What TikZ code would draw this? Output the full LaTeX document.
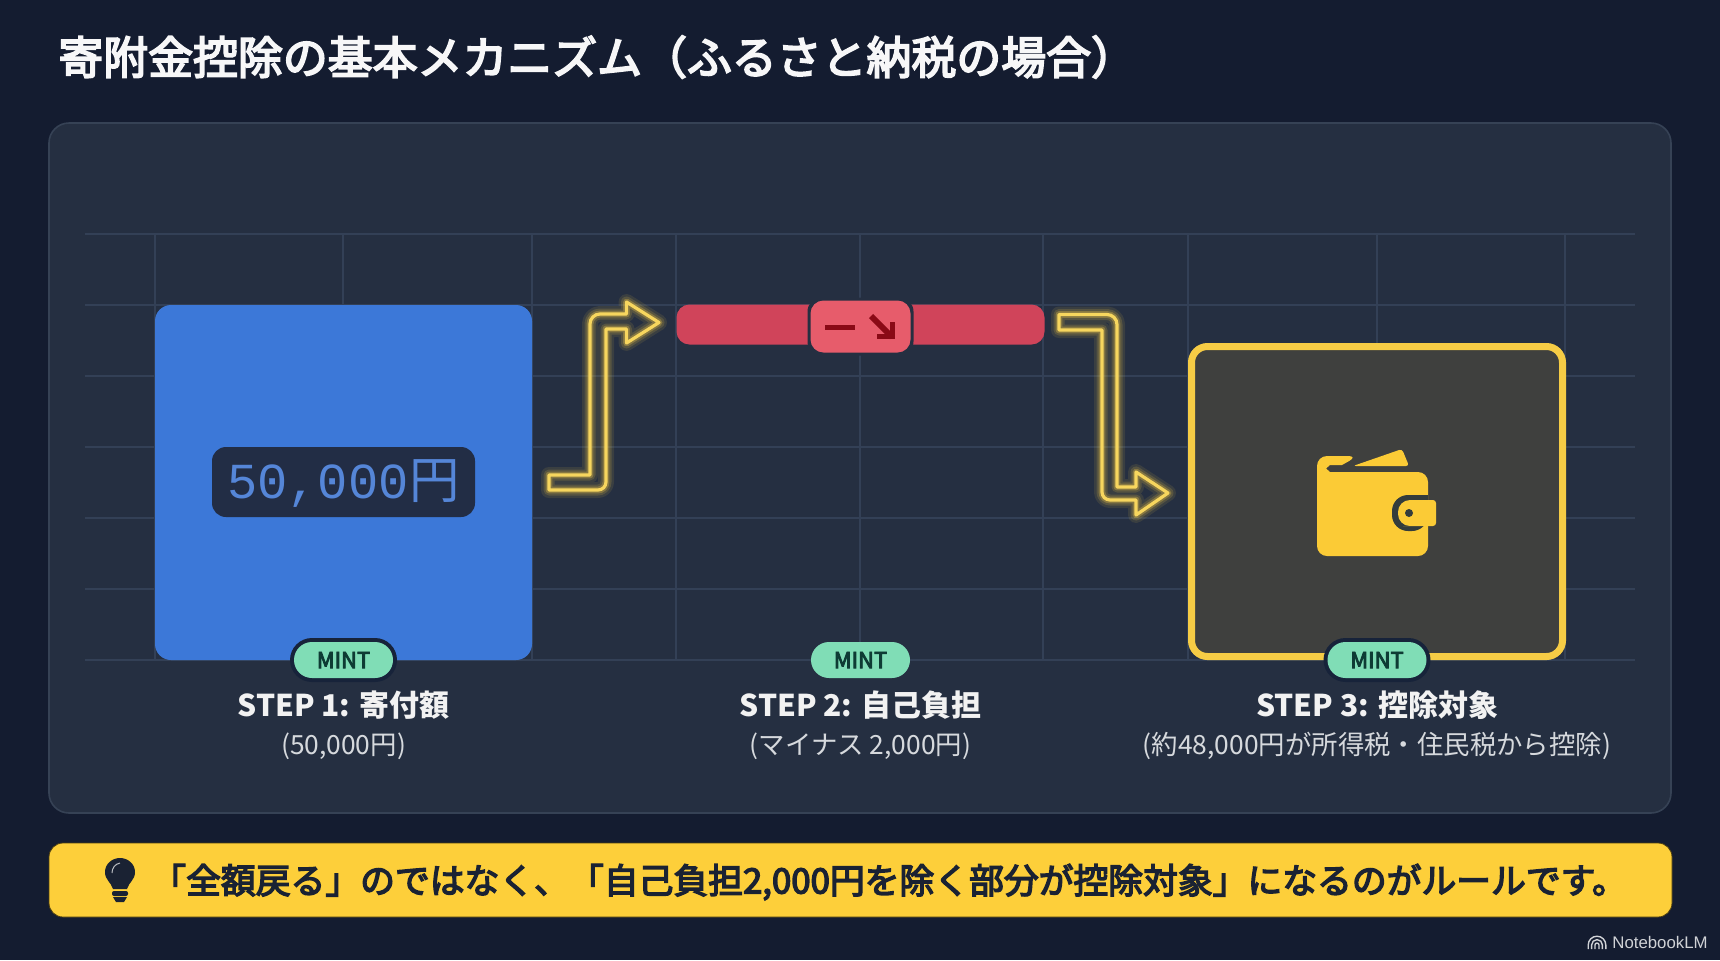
\documentclass[tikz,border=0pt]{standalone}
\usepackage{fontspec}
\usetikzlibrary{calc}
\setmainfont{Noto Sans CJK JP}
\newfontfamily\medf[FakeBold=4]{Noto Sans CJK JP}
\newfontfamily\monof{Liberation Mono}
\newfontfamily\arialf{Liberation Sans}
\definecolor{bgc}{HTML}{141C30}
\definecolor{panelc}{HTML}{252F41}
\definecolor{panelb}{HTML}{364255}
\definecolor{gridc}{HTML}{334056}
\definecolor{bluec}{HTML}{3C78D8}
\definecolor{moneyb}{HTML}{222D45}
\definecolor{moneyt}{HTML}{5586D8}
\definecolor{mintc}{HTML}{80DDB6}
\definecolor{mintt}{HTML}{0E3B34}
\definecolor{ringc}{HTML}{17233A}
\definecolor{yelc}{HTML}{F6CC45}
\definecolor{neonc}{HTML}{F7D65E}
\definecolor{walletc}{HTML}{FBCB36}
\definecolor{boxc}{HTML}{3F403E}
\definecolor{wdark}{HTML}{333C3C}
\definecolor{barc}{HTML}{D0445A}
\definecolor{badgec}{HTML}{E75C6B}
\definecolor{darkred}{HTML}{8A0A16}
\definecolor{noteyel}{HTML}{FDCF3A}
\definecolor{notet}{HTML}{1A2233}
\tikzset{
  x=0.5pt,y=-0.5pt,
  box/.style={rounded corners=#1,inner sep=0pt,outer sep=0pt},
  box/.default=6pt,
  mintpill/.style={rounded corners=9pt,fill=mintc,minimum width=49.5pt,minimum height=18pt,inner sep=0pt,text=mintt,font=\fontsize{11}{12}\selectfont\medf},
  ringpill/.style={rounded corners=11pt,fill=ringc,minimum width=53.5pt,minimum height=22pt,inner sep=0pt},
  steptitle/.style={text=white!95!black,font=\fontsize{15}{18}\selectfont\bfseries,inner sep=0pt},
  stepsub/.style={text=white!80!gridc,font=\fontsize{13.2}{16}\selectfont,inner sep=0pt},
  gridline/.style={draw=gridc,line width=0.6pt},
  neon/.style={draw=neonc,line width=1.6pt,line join=round,
    preaction={draw=yelc,opacity=0.1,line width=8pt,line join=round},
    preaction={draw=yelc,opacity=0.16,line width=5.5pt,line join=round},
    preaction={draw=yelc,opacity=0.3,line width=3.4pt,line join=round}},
}
\begin{document}
\begin{tikzpicture}
\useasboundingbox (0,0) rectangle (1720,960);
\fill[bgc] (0,0) rectangle (1720,960);
% title
\node[anchor=west,text=white!96!gridc,font=\fontsize{22.45}{26}\selectfont\medf,inner sep=0pt] (title) at (58,57) {寄附金控除の基本メカニズム（ふるさと納税の場合）};
% panel
\node[box=10pt,fill=panelc,draw=panelb,line width=0.8pt,minimum width=811pt,minimum height=345pt] (panel) at (860,468) {};
% grid
\foreach \yy in {234,305,376,447,518,589,660} \draw[gridline] (85,\yy) -- (1635,\yy);
\foreach \xx in {155,343,532,676,860,1043,1188,1377,1565} \draw[gridline] (\xx,234) -- (\xx,660);
% step 1 box
\node[box=8pt,fill=bluec,minimum width=188.5pt,minimum height=177.5pt] (blue) at (343.5,482.5) {};
\node[box=7pt,fill=moneyb,minimum width=131.5pt,minimum height=35pt] (money) at (343.5,482) {};
\node[inner sep=0pt,text=moneyt] (moneytext) at (343.5,484) {{\monof\fontsize{25.2}{28}\selectfont 50,000}\hspace{0.5pt}{\fontsize{25.2}{28}\selectfont 円}};
% step 3 box
\node[box=8pt,fill=boxc,draw=yelc,line width=3.5pt,minimum width=185.5pt,minimum height=155pt] (yellow) at (1377,501.5) {};
% wallet
\fill[walletc,rounded corners=1.5pt] (1353,466) -- (1402,449) -- (1409,466) -- cycle;
\fill[walletc,rounded corners=5pt] (1317,520) -- (1317,456) -- (1358,456) [sharp corners] -- (1342,465) -- (1330,465) -- (1326,468.5) -- (1330,472) [rounded corners=5pt] -- (1428,472) -- (1428,556) -- (1317,556) -- cycle;
\fill[wdark,rounded corners=8pt] (1428,495) -- (1392,495) -- (1392,531) -- (1428,531) [sharp corners] -- cycle;
\fill[walletc,rounded corners=6pt] (1415,500) -- (1398,500) -- (1398,526) -- (1415,526) [rounded corners=1.5pt] -- (1436,526) -- (1436,500) -- cycle;
\fill[wdark] (1409,513) circle[radius=2pt];
% red bar
\node[box=6.5pt,fill=barc,minimum width=184pt,minimum height=20pt] (bar) at (860.5,324.5) {};
\node[box=7pt,fill=panelc,minimum width=53pt,minimum height=29pt] (halo) at (860.5,326.5) {};
\node[box=6.5pt,fill=badgec,minimum width=50pt,minimum height=26pt] (badge) at (860.5,326.5) {};
\fill[darkred] (825,324.5) rectangle (855,329.5);
\coordinate (ms) at (871,316);
\coordinate (me) at (892,337);
\draw[darkred,line width=3pt] (ms) -- (me);
\draw[darkred,line width=2.4pt,line join=miter] (877,336.5) -- (892.5,336.5) -- (892.5,322);
% neon arrows
\coordinate (a1) at (549,475);
\coordinate (a2) at (549,490);
\coordinate (a3) at (606,490);
\coordinate (a4) at (606,329);
\coordinate (a5) at (626.5,329);
\coordinate (a6) at (626.5,343);
\coordinate (a7) at (659,322.5);
\coordinate (a8) at (626.5,302);
\coordinate (a9) at (626.5,314);
\coordinate (a10) at (590,314);
\coordinate (a11) at (590,475);
\path[neon] (a1) -- (a2) [rounded corners=4pt] -- (a3) [sharp corners] -- (a4) -- (a5) -- (a6) -- (a7) -- (a8) -- (a9) [rounded corners=5pt] -- (a10) [sharp corners] -- (a11) -- cycle;
\coordinate (b1) at (1059,314.5);
\coordinate (b2) at (1059,330);
\coordinate (b3) at (1102,330);
\coordinate (b4) at (1102,500);
\coordinate (b5) at (1136,500);
\coordinate (b6) at (1136,515);
\coordinate (b7) at (1168,493);
\coordinate (b8) at (1136,472);
\coordinate (b9) at (1136,487);
\coordinate (b10) at (1117,487);
\coordinate (b11) at (1117,314.5);
\path[neon] (b1) -- (b2) -- (b3) [rounded corners=4pt] -- (b4) [sharp corners] -- (b5) -- (b6) -- (b7) -- (b8) -- (b9) -- (b10) [rounded corners=5pt] -- (b11) [sharp corners] -- cycle;
% pills
\node[ringpill] (r1) at (343.5,660) {};
\node[ringpill] (r3) at (1377,660) {};
\node[mintpill] (m1) at (343.5,660) {MINT};
\node[mintpill] (m2) at (860.5,660) {MINT};
\node[mintpill] (m3) at (1377,660) {MINT};
% labels
\node[steptitle] (s1) at (343.5,705) {STEP 1: 寄付額};
\node[stepsub] (t1) at (343.5,746) {(50,000円)};
\node[steptitle] (s2) at (860.5,705) {STEP 2: 自己負担};
\node[stepsub] (t2) at (860.5,746) {(マイナス 2,000円)};
\node[steptitle] (s3) at (1377,705) {STEP 3: 控除対象};
\node[stepsub] (t3) at (1377,746) {(約48,000円が所得税・住民税から控除)};
% note
\node[box=7pt,fill=noteyel,draw=black!70!noteyel,line width=0.4pt,minimum width=811.5pt,minimum height=37pt] (note) at (860.5,880) {};
\node[anchor=west,inner sep=0pt,text=notet,font=\fontsize{17.4}{20}\selectfont\medf] (notetext) at (151,882) {「全額戻る」のではなく、「自己負担2,000円を除く部分が控除対象」になるのがルールです。};
% bulb
\fill[notet] (113,889) .. controls (111,882) and (105,880) .. (105,872) .. controls (105,864) and (112,858) .. (120,858) .. controls (128,858) and (135,864) .. (135,872) .. controls (135,880) and (129,882) .. (127,889) -- cycle;
\fill[notet,rounded corners=1pt] (112,891) rectangle (128,896);
\fill[notet] (113,897) -- (127,897) -- (124,902) -- (116,902) -- cycle;
\draw[white!70!notet,line width=0.5pt] (112,873) .. controls (112,868) and (115,864) .. (120,863);
% watermark
\node[anchor=west,inner sep=0pt,text=white!80!bgc,font=\arialf\fontsize{8.4}{10}\selectfont] (nlm) at (1612,942) {NotebookLM};
\foreach \rr in {1,2.7,4.4} \draw[white!80!bgc,line width=0.7pt] ($(1597,949)+(-\rr pt,0)$) -- ($(1597,945)+(-\rr pt,0)$) arc[start angle=180,end angle=0,radius=\rr pt] -- ($(1597,949)+(\rr pt,0)$);
\end{tikzpicture}
\end{document}
